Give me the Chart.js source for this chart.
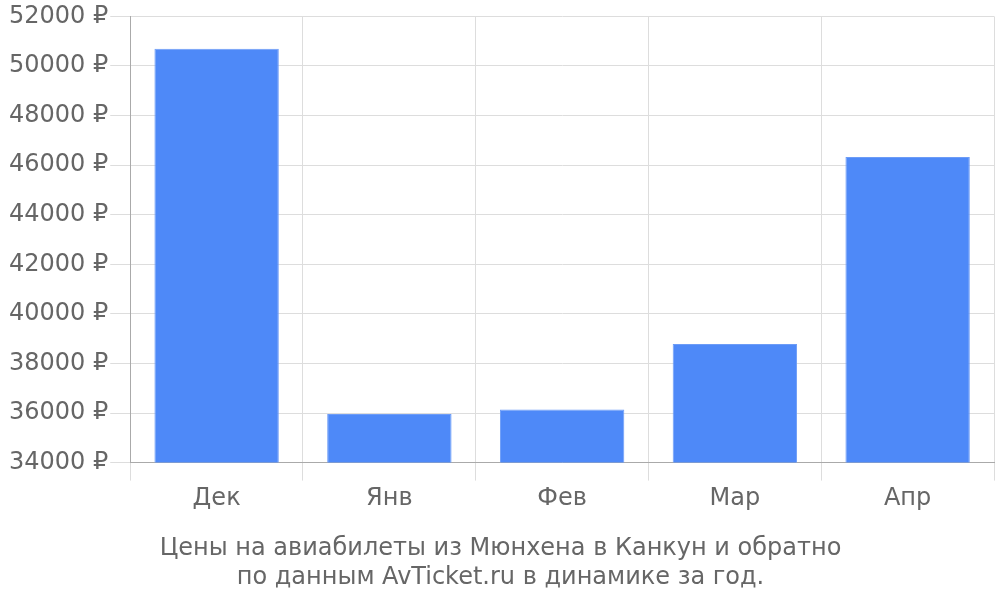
<!DOCTYPE html>
<html>
<head>
<meta charset="utf-8">
<script src="https://cdn.jsdelivr.net/npm/chart.js@4"></script>
<style>
  html, body { margin: 0; padding: 0; background: #fff; }
  #wrap { width: 1000px; height: 600px; }
</style>
</head>
<body>
<div id="wrap"><canvas id="myChart"></canvas></div>
<script>
// months and prices (rub)
var months = ['Дек', 'Янв', 'Фев', 'Мар', 'Апр'];
var prices = [50700, 35960, 36140, 38780, 46330];
var titleLines = ['Цены на авиабилеты из Мюнхена в Канкун и обратно', 'по данным AvTicket.ru в динамике за год.'];

Chart.defaults.font.family = '"DejaVu Sans", sans-serif';
Chart.defaults.color = '#666';

var ctx = document.getElementById('myChart');
var priceChart = new Chart(ctx, {
    type: 'bar',
    data: {
        labels: months,
        datasets: [{
            data: prices,
            backgroundColor: '#4e89f8',
            borderColor: '#6d9cf7',
            borderWidth: 1
        }]
    },
    options: {
        responsive: true,
        maintainAspectRatio: false,
        animation: false,
        layout: { padding: { top: 0, right: 6, left: 7, bottom: 0 } },
        plugins: {
            legend: { display: false },
            tooltip: { enabled: false },
            title: {
                display: true,
                position: 'bottom',
                text: titleLines,
                color: '#666',
                font: { size: 24, weight: 'normal' },
                padding: { top: 17, bottom: 8 }
            }
        },
        scales: {
            x: {
                grid: { color: '#ddd', tickLength: 18 },
                border: { color: '#aaa' },
                ticks: { font: { size: 24 }, padding: 4 }
            },
            y: {
                min: 34000,
                max: 52000,
                grid: { color: '#ddd', tickLength: 20 },
                border: { color: '#aaa' },
                ticks: {
                    stepSize: 2000,
                    font: { size: 24 },
                    padding: 2,
                    callback: function(v) { return v + ' ₽'; }
                }
            }
        }
    }
});
</script>
</body>
</html>
